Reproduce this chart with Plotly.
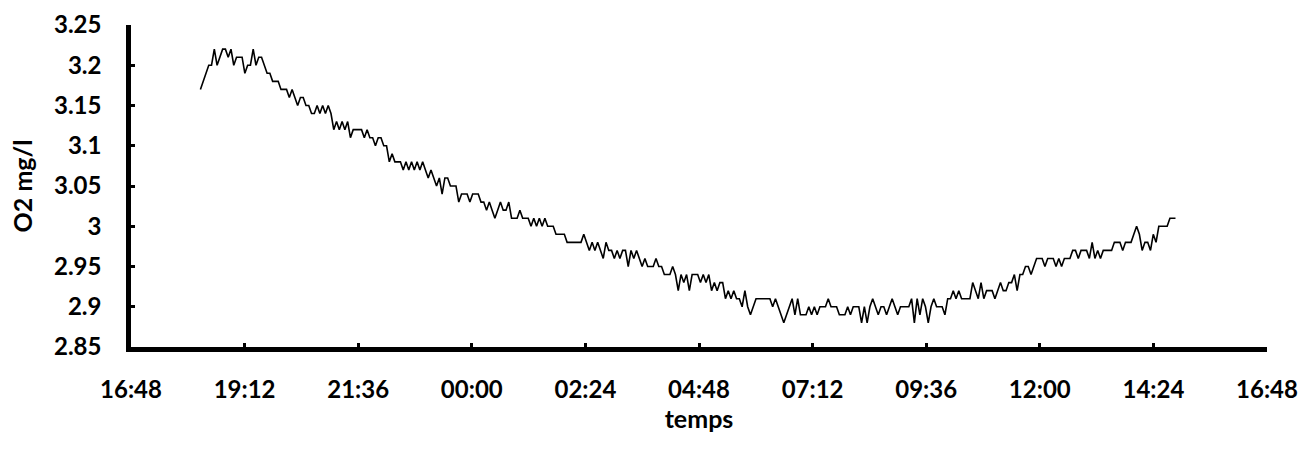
import pandas as pd
import plotly.graph_objects as go

# Dissolved oxygen readings (mg/l), logged at a steady interval
o2_seg1 = [3.17, 3.18, 3.19, 3.20, 3.20, 3.22, 3.20, 3.21, 3.22, 3.22, 3.21, 3.22, 3.20, 3.21,
           3.21, 3.21, 3.19, 3.20, 3.20, 3.22, 3.20, 3.21, 3.21, 3.20, 3.19, 3.19, 3.18, 3.18,
           3.18, 3.17, 3.17, 3.17, 3.16, 3.17, 3.16, 3.15, 3.16, 3.16, 3.15, 3.15, 3.14, 3.14,
           3.15, 3.14, 3.15, 3.14, 3.15, 3.14, 3.12, 3.13, 3.12, 3.13, 3.12, 3.13, 3.11, 3.12,
           3.12, 3.12, 3.12, 3.11, 3.12, 3.11, 3.11, 3.10, 3.11, 3.11, 3.10, 3.10]
o2_seg2 = [3.08, 3.09, 3.08, 3.08, 3.08, 3.07, 3.08, 3.07, 3.08, 3.07, 3.08, 3.07, 3.08, 3.07,
           3.06, 3.07, 3.06, 3.05, 3.06, 3.04, 3.06, 3.06, 3.05, 3.05, 3.05, 3.03, 3.04, 3.04,
           3.04, 3.03, 3.04, 3.04, 3.04, 3.03, 3.03, 3.02, 3.03, 3.02, 3.01, 3.02, 3.03, 3.02,
           3.02, 3.03, 3.01, 3.01, 3.01, 3.02, 3.01, 3.01, 3.01, 3.00, 3.01, 3.00, 3.01, 3.00,
           3.01, 3.00, 3.00, 3.00, 2.99, 2.99, 2.99, 2.99, 2.98]
o2_seg3 = [2.98, 2.98, 2.98, 2.98, 2.98, 2.99, 2.98, 2.97, 2.98, 2.97, 2.98, 2.97, 2.96, 2.98,
           2.97, 2.97, 2.96, 2.97, 2.96, 2.97, 2.97, 2.95, 2.97, 2.96, 2.97, 2.96, 2.95, 2.96,
           2.95, 2.95, 2.95, 2.96, 2.95, 2.95, 2.94, 2.94, 2.94, 2.95, 2.94, 2.92, 2.94, 2.93,
           2.94, 2.92, 2.94, 2.94, 2.94, 2.93, 2.94, 2.93, 2.94, 2.92, 2.93, 2.92, 2.93, 2.93,
           2.91, 2.92, 2.91, 2.92, 2.91, 2.91, 2.90, 2.92, 2.90, 2.89, 2.90, 2.91, 2.91, 2.91,
           2.91, 2.91]
o2_seg4 = [2.91, 2.90, 2.91, 2.90, 2.89, 2.88, 2.89, 2.90, 2.91, 2.89, 2.91, 2.89, 2.89, 2.89,
           2.90, 2.89, 2.90, 2.89, 2.90, 2.90, 2.90, 2.91, 2.90, 2.90, 2.90, 2.89, 2.89, 2.89,
           2.90, 2.89, 2.90, 2.90, 2.90, 2.88, 2.90, 2.88, 2.90, 2.91, 2.90, 2.89, 2.90, 2.90,
           2.89, 2.90, 2.91, 2.90, 2.89, 2.90, 2.90, 2.90, 2.90, 2.91, 2.88, 2.91, 2.89, 2.91,
           2.90, 2.88, 2.90, 2.91, 2.90, 2.90, 2.90, 2.89, 2.91, 2.91, 2.92, 2.91, 2.92, 2.91,
           2.91]
o2_seg5 = [2.91, 2.91, 2.93, 2.92, 2.91, 2.93, 2.91, 2.92, 2.92, 2.92, 2.91, 2.92, 2.93, 2.92,
           2.92, 2.93, 2.93, 2.94, 2.92, 2.94, 2.94, 2.95, 2.95, 2.94, 2.95, 2.96, 2.96, 2.96,
           2.95, 2.96, 2.96, 2.96, 2.95, 2.96, 2.95, 2.96, 2.96, 2.96, 2.97, 2.97, 2.96, 2.97,
           2.97, 2.97, 2.96, 2.98, 2.96, 2.97, 2.96, 2.97, 2.97, 2.97, 2.97, 2.98, 2.98, 2.98,
           2.97, 2.98, 2.98, 2.98, 2.99, 3.00, 2.99, 2.97, 2.98, 2.98, 2.97, 2.99, 2.98, 3.00,
           3.00, 3.00, 3.00, 3.01, 3.01, 3.01]
o2_values = o2_seg1 + o2_seg2 + o2_seg3 + o2_seg4 + o2_seg5

# Recording period
start_time = "2000-01-01 18:16"
end_time = "2000-01-02 14:52"
times = pd.date_range(start_time, end_time, periods=len(o2_values))

# Axis ticks
x_tick_values = pd.date_range("2000-01-01 16:48", periods=11, freq="144min")
x_tick_labels = ["16:48", "19:12", "21:36", "00:00", "02:24", "04:48",
                 "07:12", "09:36", "12:00", "14:24", "16:48"]
y_tick_values = [2.85, 2.90, 2.95, 3.00, 3.05, 3.10, 3.15, 3.20, 3.25]
y_tick_labels = ["2.85", "2.9", "2.95", "3", "3.05", "3.1", "3.15", "3.2", "3.25"]

FONT = "Lato, 'DejaVu Sans', sans-serif"
TICK_FONT = dict(family=FONT, size=24, color="black", weight="bold")
TITLE_FONT = dict(family=FONT, size=25, color="black", weight="bold")

fig = go.Figure()
fig.add_trace(go.Scatter(
    x=times, y=o2_values, mode="lines",
    line=dict(color="black", width=1.6),
    hoverinfo="x+y", showlegend=False,
))

fig.update_layout(
    width=1299, height=455,
    margin=dict(l=131, r=32, t=25, b=108, autoexpand=False),
    paper_bgcolor="white", plot_bgcolor="white",
    font=dict(family=FONT, size=23, color="black"),
)

fig.update_xaxes(
    range=[x_tick_values[0], x_tick_values[-1]],
    tickvals=x_tick_values, ticktext=x_tick_labels,
    showgrid=False, zeroline=False,
    showline=True, linecolor="black", linewidth=4.5,
    ticks="inside", ticklen=4, tickwidth=3, tickcolor="black",
    ticklabelstandoff=17,
    tickfont=TICK_FONT,
    title=dict(text="temps", font=TITLE_FONT, standoff=8),
)
fig.update_yaxes(
    range=[2.85, 3.25],
    tickvals=y_tick_values, ticktext=y_tick_labels,
    showgrid=False, zeroline=False,
    showline=True, linecolor="black", linewidth=4.5,
    ticks="inside", ticklen=4, tickwidth=3, tickcolor="black",
    ticklabelstandoff=20,
    tickfont=TICK_FONT,
    title=dict(text="O2 mg/l", font=TITLE_FONT, standoff=16),
)

fig.write_html("out.html")
